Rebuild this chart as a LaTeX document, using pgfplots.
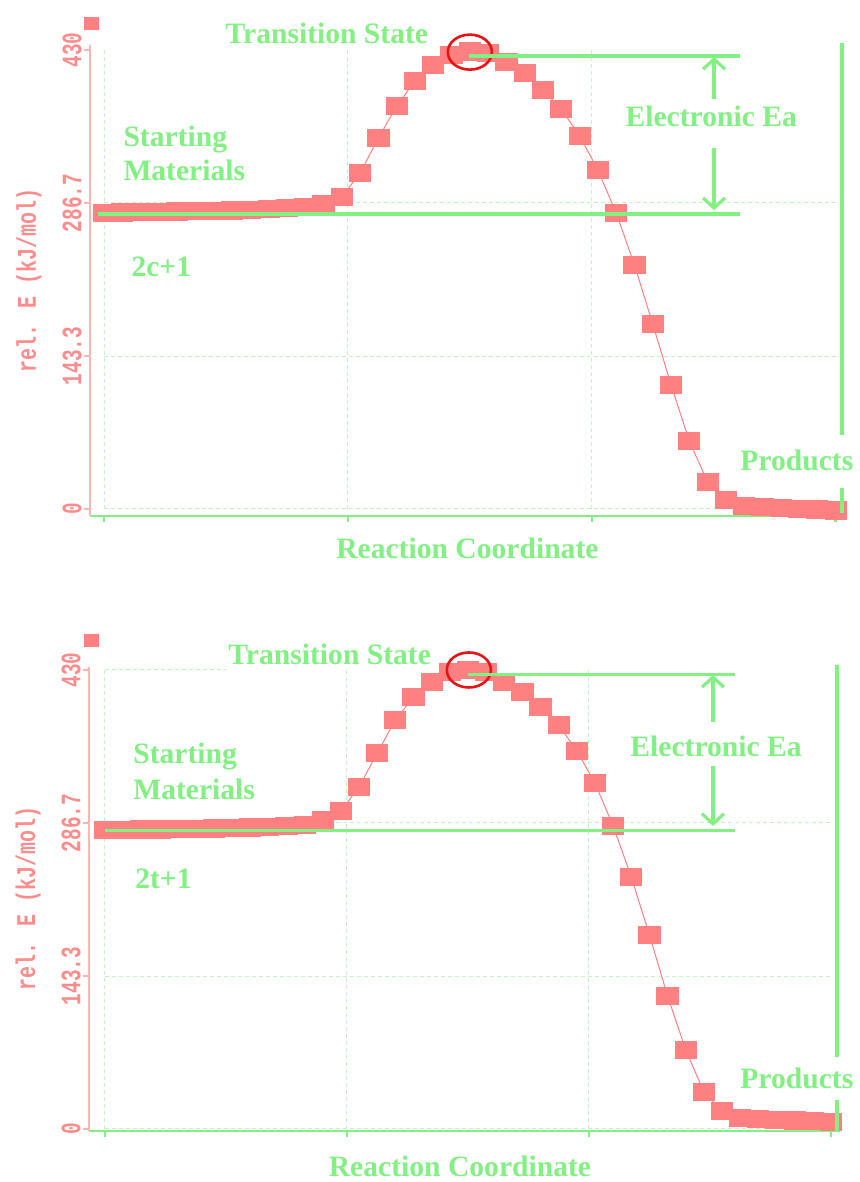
\documentclass[border=0pt]{standalone}
\usepackage{pgfplots}
\pgfplotsset{compat=1.18}
\usepackage{pgfplotstable}
\usepackage{fontspec}
\setmainfont{Liberation Serif}
\newfontfamily\monofont{Liberation Mono}
\usetikzlibrary{arrows.meta}
\definecolor{mk}{RGB}{255,128,128}
\definecolor{redax}{RGB}{255,180,180}
\definecolor{redtxt}{RGB}{255,140,140}
\definecolor{lg}{RGB}{130,240,130}
\definecolor{gridg}{RGB}{195,245,195}
\definecolor{circ}{RGB}{230,20,20}
\newcommand{\rt}[1]{\scalebox{1}[1.45]{\monofont\bfseries\fontsize{9.7}{10}\selectfont #1}}
\newcommand{\gt}{\fontsize{14.8}{17}\selectfont\bfseries\color{lg}}

\pgfplotstableread{
x y
0 277.5
1 277.7
2 278.0
3 278.3
4 278.6
5 279.0
6 279.4
7 279.8
8 280.3
9 281.0
10 281.8
11 283.0
12 286.0
13 292.3
14 314.8
15 347.6
16 377.5
17 401.0
18 416.0
19 425.3
20 428.5
21 427.0
22 418.7
23 408.4
24 392.5
25 374.7
26 349.4
27 317.6
28 277.3
29 228.6
30 173.3
31 116.2
32 63.7
33 25.3
34 8.4
35 2.8
36 1.8
37 1.0
38 0.2
39 -0.6
40 -1.4
}\topdata

\pgfplotstableread{
x y
0 280.0
1 280.2
2 280.4
3 280.7
4 281.0
5 281.3
6 281.6
7 282.0
8 282.5
9 283.0
10 283.8
11 285.0
12 289.0
13 297.9
14 320.4
15 352.2
16 383.2
17 404.7
18 418.8
19 428.1
20 430.0
21 428.1
22 418.8
23 409.4
24 395.3
25 378.5
26 354.1
27 324.1
28 283.9
29 236.1
30 181.7
31 124.6
32 74.0
33 34.7
34 16.9
35 10.5
36 9.4
37 8.6
38 7.9
39 7.2
40 6.6
}\botdata

\tikzset{
  gridl/.style={gridg, dash pattern=on 2pt off 1.5pt, line width=0.5pt},
}
\pgfplotsset{
  gline/.style={lg, line width=1.6pt, no marks},
  garrow/.style={lg, line width=1.6pt, no marks, -{Straight Barb[length=5pt,width=11pt]}},
  enstyle/.style={
    clip marker paths=true,
    scale only axis,
    axis x line*=bottom, axis y line*=left,
    x axis line style={lg, line width=1.4pt},
    y axis line style={redax, line width=1pt},
    xtick={0,13.3333,26.6667,40}, xticklabels={},
    ytick={0,143.3,286.7,430},
    yticklabels={\rt{0},\rt{143.3},\rt{286.7},\rt{430}},
    tick align=outside,
    major tick length=3pt,
    xtick style={lg, line width=1.2pt},
    ytick style={redax, line width=0.8pt},
    yticklabel style={rotate=90, anchor=south, inner sep=1pt, text=redtxt},
    ylabel={\scalebox{1}[1.35]{\monofont\bfseries\fontsize{10}{12}\selectfont rel. E (kJ/mol)}},
    every axis y label/.style={at={(axis description cs:-0.081,0.5)}, rotate=90, anchor=center, text=redtxt},
    xlabel={\gt Reaction Coordinate},
    clip=false,
  },
}

\begin{document}
\begin{tikzpicture}
\useasboundingbox (0,0) rectangle (429.5pt,591pt);
% ---------------- top panel ----------------
\begin{axis}[enstyle, at={(45pt,333pt)}, anchor=south west,
  width=377.4pt, height=235.5pt,
  xmin=-0.77, xmax=40.5, ymin=-6.56, ymax=434.7,
  every axis x label/.style={at={(axis description cs:0.5,-0.0913)}, anchor=base}]
\draw[gridl] (axis cs:0,0) -- (axis cs:0,430);
\draw[gridl] (axis cs:13.3333,0) -- (axis cs:13.3333,430);
\draw[gridl] (axis cs:26.6667,0) -- (axis cs:26.6667,430);
\draw[gridl] (axis cs:0,0) -- (axis cs:40,0);
\draw[gridl] (axis cs:0,143.3) -- (axis cs:40,143.3);
\draw[gridl] (axis cs:0,286.7) -- (axis cs:40,286.7);
\addplot[mk, line width=0.5pt, mark=square*, mark size=5.3pt,
  mark options={mk, fill=mk, line width=0pt, yscale=0.82}] table[x=x,y=y] {\topdata};
\addplot[mk, only marks, mark=square*, mark size=3.5pt,
  mark options={mk, fill=mk, line width=0pt, yscale=0.85}] coordinates {(-0.71,455)};
\addplot[circ, only marks, mark=o, mark size=8.75pt,
  mark options={circ, line width=1.3pt, xscale=1.26}] coordinates {(20,428)};
\addplot[gline] coordinates {(-0.33,276.4) (34.77,276.4)};
\addplot[gline] coordinates {(19.96,424.4) (34.77,424.4)};
\addplot[garrow] coordinates {(33.35,384) (33.35,423.4)};
\addplot[garrow] coordinates {(33.35,338.2) (33.35,280)};
\addplot[gline] coordinates {(40.35,436.5) (40.35,69.3)};
\addplot[gline] coordinates {(40.35,19.7) (40.35,-3.7)};
\node[anchor=base west, inner sep=0pt] at (axis cs:6.62,436.5) {\gt Transition State};
\node[anchor=base west, inner sep=0pt] at (axis cs:1.04,340) {\gt Starting};
\node[anchor=base west, inner sep=0pt] at (axis cs:1.04,308.2) {\gt Materials};
\node[anchor=base west, inner sep=0pt] at (axis cs:1.48,217.6) {\gt 2c+1};
\node[anchor=base west, inner sep=0pt] at (axis cs:28.49,358.1) {\gt Electronic Ea};
\node[anchor=base west, inner sep=0pt] at (axis cs:34.77,36.5) {\gt Products};
\end{axis}
% ---------------- bottom panel ----------------
\begin{axis}[enstyle, at={(44.5pt,25.5pt)}, anchor=south west,
  width=375.5pt, height=232.1pt,
  xmin=-0.88, xmax=40.5, ymin=-1.9, ymax=433,
  every axis x label/.style={at={(axis description cs:0.494,-0.099)}, anchor=base}]
\draw[gridl] (axis cs:0,0) -- (axis cs:0,430);
\draw[gridl] (axis cs:13.3333,0) -- (axis cs:13.3333,430);
\draw[gridl] (axis cs:26.6667,0) -- (axis cs:26.6667,430);
\draw[gridl] (axis cs:0,0) -- (axis cs:40,0);
\draw[gridl] (axis cs:0,143.3) -- (axis cs:40,143.3);
\draw[gridl] (axis cs:0,286.7) -- (axis cs:40,286.7);
\draw[gridl] (axis cs:0,430) -- (axis cs:6.7,430);
\addplot[mk, line width=0.5pt, mark=square*, mark size=5.3pt,
  mark options={mk, fill=mk, line width=0pt, yscale=0.82}] table[x=x,y=y] {\botdata};
\addplot[mk, only marks, mark=square*, mark size=3.5pt,
  mark options={mk, fill=mk, line width=0pt, yscale=0.85}] coordinates {(-0.72,458)};
\addplot[circ, only marks, mark=o, mark size=8.75pt,
  mark options={circ, line width=1.3pt, xscale=1.26}] coordinates {(20.05,430)};
\addplot[gline] coordinates {(0,279.4) (34.7,279.4)};
\addplot[gline] coordinates {(20,426) (34.7,426)};
\addplot[garrow] coordinates {(33.5,381.3) (33.5,425.3)};
\addplot[garrow] coordinates {(33.5,340) (33.5,283.9)};
\addplot[gline] coordinates {(40.33,435) (40.33,67.4)};
\addplot[gline] coordinates {(40.33,27.2) (40.33,-1.9)};
\node[anchor=base west, inner sep=0pt] at (axis cs:6.78,434.7) {\gt Transition State};
\node[anchor=base west, inner sep=0pt] at (axis cs:1.54,342.6) {\gt Starting};
\node[anchor=base west, inner sep=0pt] at (axis cs:1.54,308.2) {\gt Materials};
\node[anchor=base west, inner sep=0pt] at (axis cs:1.65,225.7) {\gt 2t+1};
\node[anchor=base west, inner sep=0pt] at (axis cs:28.93,348.5) {\gt Electronic Ea};
\node[anchor=base west, inner sep=0pt] at (axis cs:34.99,38.1) {\gt Products};
\end{axis}
\end{tikzpicture}
\end{document}
